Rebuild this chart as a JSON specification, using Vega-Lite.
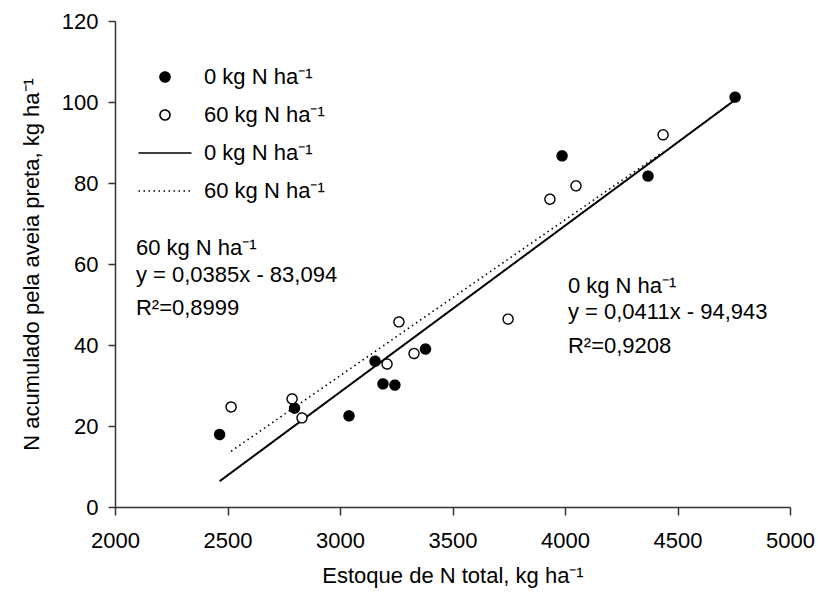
{
  "$schema": "https://vega.github.io/schema/vega-lite/v6.json",
  "width": 675,
  "height": 486,
  "autosize": "none",
  "padding": {"left": 115, "top": 21, "right": 28, "bottom": 89},
  "background": "white",
  "config": {
    "view": {"stroke": null},
    "font": "Liberation Sans",
    "axis": {
      "grid": false,
      "domainColor": "#333333",
      "tickColor": "#333333",
      "domainWidth": 1.5,
      "tickWidth": 1.5,
      "labelFont": "Liberation Sans",
      "labelFontSize": 22,
      "labelColor": "black",
      "titleFont": "Liberation Sans",
      "titleFontSize": 22,
      "titleFontWeight": "normal",
      "titleColor": "black"
    },
    "legend": {
      "orient": "none",
      "legendX": 39,
      "legendY": 45,
      "padding": 0,
      "symbolSize": 100,
      "symbolStrokeColor": "black",
      "symbolStrokeWidth": 1.6,
      "symbolOpacity": 1,
      "labelFont": "Liberation Sans",
      "labelFontSize": 22,
      "labelColor": "black",
      "labelOffset": 28,
      "rowPadding": 16
    }
  },
  "layer": [
    {
      "data": {
        "values": [
          {"x": 2465, "y": 6.37, "serie": "l0"},
          {"x": 4756, "y": 100.53, "serie": "l0"},
          {"x": 2516, "y": 13.77, "serie": "l60"},
          {"x": 4436, "y": 87.69, "serie": "l60"}
        ]
      },
      "mark": {"type": "line"},
      "encoding": {
        "x": {
          "field": "x", "type": "quantitative",
          "scale": {"domain": [2000, 5000], "nice": false, "zero": false},
          "axis": {
            "values": [2000, 2500, 3000, 3500, 4000, 4500, 5000],
            "format": "d",
            "tickSize": 8, "labelPadding": 15, "titlePadding": 14,
            "labelFlush": false,
            "title": "Estoque de N total, kg ha⁻¹"
          }
        },
        "y": {
          "field": "y", "type": "quantitative",
          "scale": {"domain": [0, 120], "nice": false},
          "axis": {
            "values": [0, 20, 40, 60, 80, 100, 120],
            "format": "d",
            "tickSize": 7, "labelPadding": 10, "titlePadding": 18,
            "labelFlush": false,
            "title": "N acumulado pela aveia preta, kg ha⁻¹"
          }
        },
        "detail": {"field": "serie"},
        "stroke": {
          "field": "serie", "type": "nominal",
          "scale": {"domain": ["p0", "p60", "l0", "l60"], "range": ["black", "black", "black", "black"]},
          "legend": {
            "title": null,
            "labelExpr": "(datum.value === 'p0' || datum.value === 'l0') ? '0 kg N ha⁻¹' : '60 kg N ha⁻¹'"
          }
        },
        "strokeDash": {
          "field": "serie", "type": "nominal",
          "scale": {"domain": ["p0", "p60", "l0", "l60"], "range": [[1, 0], [1, 0], [1, 0], [1.5, 3.5]]},
          "legend": {
            "title": null,
            "labelExpr": "(datum.value === 'p0' || datum.value === 'l0') ? '0 kg N ha⁻¹' : '60 kg N ha⁻¹'"
          }
        },
        "strokeWidth": {
          "field": "serie", "type": "nominal",
          "scale": {"domain": ["l0", "l60"], "range": [2, 1.6]},
          "legend": null
        }
      }
    },
    {
      "data": {
        "values": [
          {"x": 2465, "y": 17.9, "serie": "p0"},
          {"x": 2798, "y": 24.4, "serie": "p0"},
          {"x": 3040, "y": 22.5, "serie": "p0"},
          {"x": 3156, "y": 36.0, "serie": "p0"},
          {"x": 3191, "y": 30.4, "serie": "p0"},
          {"x": 3244, "y": 30.1, "serie": "p0"},
          {"x": 3380, "y": 39.0, "serie": "p0"},
          {"x": 3987, "y": 86.7, "serie": "p0"},
          {"x": 4369, "y": 81.7, "serie": "p0"},
          {"x": 4756, "y": 101.2, "serie": "p0"},
          {"x": 2516, "y": 24.7, "serie": "p60"},
          {"x": 2787, "y": 26.7, "serie": "p60"},
          {"x": 2831, "y": 22.0, "serie": "p60"},
          {"x": 3209, "y": 35.3, "serie": "p60"},
          {"x": 3262, "y": 45.7, "serie": "p60"},
          {"x": 3329, "y": 37.9, "serie": "p60"},
          {"x": 3747, "y": 46.4, "serie": "p60"},
          {"x": 3933, "y": 76.0, "serie": "p60"},
          {"x": 4049, "y": 79.3, "serie": "p60"},
          {"x": 4436, "y": 91.9, "serie": "p60"}
        ]
      },
      "mark": {"type": "point", "filled": true, "strokeWidth": 1.4, "size": 100, "opacity": 1},
      "encoding": {
        "x": {"field": "x", "type": "quantitative"},
        "y": {"field": "y", "type": "quantitative"},
        "fill": {
          "field": "serie", "type": "nominal",
          "scale": {"domain": ["p0", "p60", "l0", "l60"], "range": ["black", "white", "transparent", "transparent"]},
          "legend": {
            "title": null,
            "labelExpr": "(datum.value === 'p0' || datum.value === 'l0') ? '0 kg N ha⁻¹' : '60 kg N ha⁻¹'"
          }
        },
        "stroke": {
          "field": "serie", "type": "nominal",
          "legend": {
            "title": null,
            "labelExpr": "(datum.value === 'p0' || datum.value === 'l0') ? '0 kg N ha⁻¹' : '60 kg N ha⁻¹'"
          }
        },
        "shape": {
          "field": "serie", "type": "nominal",
          "scale": {"domain": ["p0", "p60", "l0", "l60"], "range": ["circle", "circle", "M-5.3,0H5.3", "M-5.3,0H5.3"]},
          "legend": {
            "title": null,
            "labelExpr": "(datum.value === 'p0' || datum.value === 'l0') ? '0 kg N ha⁻¹' : '60 kg N ha⁻¹'"
          }
        },
        "strokeDash": {
          "field": "serie", "type": "nominal",
          "legend": {
            "title": null,
            "labelExpr": "(datum.value === 'p0' || datum.value === 'l0') ? '0 kg N ha⁻¹' : '60 kg N ha⁻¹'"
          }
        }
      }
    },
    {
      "data": {
        "values": [
          {"x": 2093, "y": 62.2, "label": "60 kg N ha⁻¹"},
          {"x": 2093, "y": 55.6, "label": "\u00a0y = 0,0385x - 83,094"},
          {"x": 2093, "y": 47.4, "label": "R²=0,8999"},
          {"x": 4013, "y": 52.8, "label": "0 kg N ha⁻¹"},
          {"x": 4013, "y": 46.4, "label": "y = 0,0411x - 94,943"},
          {"x": 4013, "y": 38.0, "label": "R²=0,9208"}
        ]
      },
      "mark": {"type": "text", "align": "left", "baseline": "alphabetic", "font": "Liberation Sans", "fontSize": 22, "color": "black"},
      "encoding": {
        "x": {"field": "x", "type": "quantitative"},
        "y": {"field": "y", "type": "quantitative"},
        "text": {"field": "label"}
      }
    }
  ]
}
